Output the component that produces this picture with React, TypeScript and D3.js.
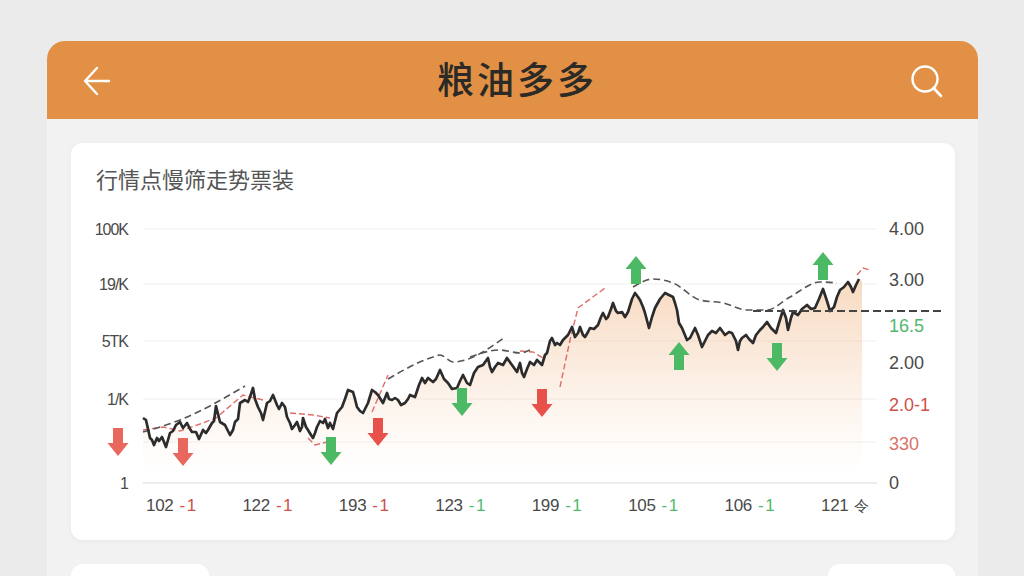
import * as d3 from 'd3'

const W = 1024
const H = 576

// time runs 0..717 across the plot, price runs 0..254 bottom to top
const pricePoints: [number, number][] = [
    [0, 65], [3, 63], [7, 45], [9, 43], [11, 38], [14, 45], [16, 42], [19, 46], [21, 41], [23, 36], [27, 50], [30, 52], [33, 58], [37, 61],
    [40, 55], [44, 60], [47, 54], [49, 51], [53, 51], [56, 44], [60, 53], [63, 50], [65, 53], [69, 60], [71, 62], [73, 77], [77, 61],
    [82, 58], [85, 52], [87, 48], [90, 53], [92, 61], [95, 64], [97, 80], [102, 83], [105, 81], [107, 86], [110, 95], [112, 84], [115, 76], [118, 70], [120, 63], [124, 80],
    [127, 82], [130, 88], [134, 78], [136, 74], [139, 80], [142, 76], [144, 66], [147, 60], [149, 54], [152, 58], [154, 61], [157, 52], [159, 56], [160, 65], [163, 56], [165, 53], [168, 48], [170, 45],
    [172, 50], [174, 56], [177, 62], [180, 60], [182, 64], [185, 55], [187, 60], [190, 54], [194, 70], [199, 76], [202, 84], [205, 93], [210, 91], [212, 84], [214, 76], [217, 72], [220, 70],
    [223, 76], [225, 80], [229, 93], [232, 91], [235, 88], [240, 80], [244, 90], [246, 84], [249, 83], [252, 85], [255, 83], [258, 78], [262, 80], [265, 84], [267, 88],
    [272, 86], [276, 98], [279, 105], [282, 100], [285, 105], [290, 101], [293, 104], [297, 113], [301, 104], [305, 100], [309, 94], [314, 95], [317, 102], [320, 108], [324, 100], [327, 98], [331, 110], [335, 116],
    [340, 118], [345, 125], [347, 116], [349, 111], [352, 116], [355, 120], [360, 118], [364, 125], [369, 118], [374, 111], [377, 120], [379, 110], [381, 106], [384, 114], [387, 121], [391, 118], [394, 123], [397, 120], [399, 118],
    [402, 128], [404, 130], [407, 142], [409, 145], [412, 138], [414, 140], [417, 138], [420, 143], [425, 148], [429, 156], [432, 146], [435, 150], [437, 156], [440, 148], [442, 146], [445, 151], [447, 155], [451, 154], [455, 158],
    [458, 166], [460, 170], [463, 164], [465, 166], [468, 174], [470, 180], [473, 172], [475, 170], [479, 171], [482, 166], [485, 171], [489, 184], [492, 190], [495, 186], [497, 183], [500, 176], [502, 170], [506, 155], [509, 166], [512, 175],
    [517, 184], [522, 190], [526, 188], [530, 186], [532, 180], [534, 173], [536, 160], [539, 155], [544, 143], [547, 145], [552, 155], [555, 148], [559, 136], [562, 142], [565, 148], [569, 152], [573, 150], [577, 155], [582, 148],
    [586, 151], [589, 150], [593, 142], [595, 133], [597, 142], [599, 145], [603, 148], [606, 144], [610, 140], [613, 148], [617, 153], [620, 156], [624, 161], [628, 155], [633, 150], [636, 160], [640, 173], [643, 165], [645, 153], [648, 165], [650, 171],
    [655, 168], [659, 174], [664, 178], [668, 174], [672, 175], [676, 184], [680, 194], [684, 182], [687, 172], [691, 176], [694, 186], [697, 193], [701, 196], [705, 201], [708, 196], [710, 191], [713, 198], [716, 204], [719, 202],
]

const grayDashes: [number, number][][] = [
    [[0, 51], [37, 63], [102, 97]],
    [[245, 104], [290, 126], [297, 128], [310, 121], [362, 146]],
    [[327, 126], [357, 133], [377, 130], [387, 133]],
    [[490, 196], [510, 204], [530, 200], [557, 183], [580, 180], [604, 173], [624, 173], [647, 186], [677, 201], [694, 200]],
]
const redDashes: [number, number][][] = [
    [[0, 53], [20, 56], [37, 52], [57, 59], [73, 65], [100, 88], [120, 83]],
    [[147, 70], [170, 68], [187, 65]],
    [[165, 45], [172, 38], [184, 41]],
    [[229, 71], [245, 108]],
    [[377, 132], [390, 131], [400, 125]],
    [[417, 96], [427, 143], [435, 175], [462, 195]],
    [[714, 208], [720, 215], [727, 213]],
]
const levelValue = 172
const levelSpan = [610, 800]

type Arrow = { t: number; v: number; dir: 'up' | 'down'; tone: 'gain' | 'loss' | 'soft' }
const arrows: Arrow[] = [
    { t: -25, v: 41, dir: 'down', tone: 'soft' },
    { t: 40, v: 31, dir: 'down', tone: 'soft' },
    { t: 188, v: 32, dir: 'down', tone: 'gain' },
    { t: 235, v: 51, dir: 'down', tone: 'loss' },
    { t: 319, v: 81, dir: 'down', tone: 'gain' },
    { t: 399, v: 80, dir: 'down', tone: 'loss' },
    { t: 493, v: 213, dir: 'up', tone: 'gain' },
    { t: 536, v: 127, dir: 'up', tone: 'gain' },
    { t: 634, v: 126, dir: 'down', tone: 'gain' },
    { t: 680, v: 217, dir: 'up', tone: 'gain' },
]

const leftTicks = [254, 199, 142, 84, 0]
const leftLabels = ['100K', '19/K', '5TK', '1/K', '1']
const gridTicks = [254, 199, 142, 84, 41, 0]
const rightTicks = [254, 203, 157, 120, 78, 39, 0]
const rightLabels = ['4.00', '3.00', '16.5', '2.00', '2.0-1', '330', '0']
const rightTones = ['ink', 'ink', 'gain', 'ink', 'loss', 'soft', 'ink']
const xLabels = ['102', '122', '193', '123', '199', '105', '106', '121']
const xSuffixes = ['-1', '-1', '-1', '-1', '-1', '-1', '-1', '令']
const xTones = ['loss', 'loss', 'loss', 'gain', 'gain', 'gain', 'gain', 'ink']

const toneColor = { ink: '#4a4a4a', gain: '#4fb96c', loss: '#cf4f4a', soft: '#d9726c' }
const arrowColor = { gain: '#4cb964', loss: '#e8504a', soft: '#e8675f' }
const latin = '"Liberation Sans", Arial, sans-serif'
const cjk = '"Noto Sans CJK SC", sans-serif'

const x = d3.scaleLinear().domain([0, 717]).range([143, 860])
const y = d3.scaleLinear().domain([0, 254]).range([483, 229])
const xBand = d3.scalePoint<string>().domain(xLabels.map((d, i) => d + i)).range([146, 821])

const line = d3.line<[number, number]>().x(d => x(d[0])).y(d => y(d[1]))
const area = d3
    .area<[number, number]>()
    .x(d => x(d[0]))
    .y0(y(0))
    .y1(d => y(d[1]))

const arrowPath = (a: Arrow) => {
    const cx = x(a.t)
    const cy = y(a.v)
    const s = a.dir === 'up' ? -1 : 1
    const p = d3.path()
    p.moveTo(cx - 5, cy - s * 14)
    p.lineTo(cx + 5, cy - s * 14)
    p.lineTo(cx + 5, cy + s * 1)
    p.lineTo(cx + 10.5, cy + s * 1)
    p.lineTo(cx, cy + s * 14)
    p.lineTo(cx - 10.5, cy + s * 1)
    p.lineTo(cx - 5, cy + s * 1)
    p.closePath()
    return p.toString()
}

export default function App() {
    document.body.style.margin = '0'
    return (
        <svg width={W} height={H} style={{ display: 'block', position: 'fixed', left: 0, top: 0 }}>
            <defs>
                <linearGradient id="fade" gradientUnits="userSpaceOnUse" x1="0" y1="285" x2="0" y2="472">
                    <stop offset="0" stopColor="#eeaa6e" stopOpacity="0.42" />
                    <stop offset="0.45" stopColor="#f0b585" stopOpacity="0.25" />
                    <stop offset="1" stopColor="#f4c9a4" stopOpacity="0" />
                </linearGradient>
                <filter id="soft" x="-5%" y="-5%" width="110%" height="110%">
                    <feDropShadow dx="0" dy="1" stdDeviation="3" floodColor="#000" floodOpacity="0.04" />
                </filter>
            </defs>

            <rect width={W} height={H} fill="#ebebeb" />
            <path d="M47 576V59a18 18 0 0 1 18-18H960a18 18 0 0 1 18 18V576Z" fill="#f2f2f2" />
            <path d="M47 119V59a18 18 0 0 1 18-18H960a18 18 0 0 1 18 18V119Z" fill="#e19045" />

            <path d="M109 81H86M97 68L85 81L97 94" fill="none" stroke="#fff" strokeWidth={2.4} strokeLinecap="round" strokeLinejoin="round" />
            <circle cx={925} cy={79} r={12.5} fill="none" stroke="#fff" strokeWidth={2.4} />
            <path d="M933.5 88L941 96" fill="none" stroke="#fff" strokeWidth={2.6} strokeLinecap="round" />
            <text x={517} y={94} textAnchor="middle" fontFamily={cjk} fontSize={37} fontWeight={500} letterSpacing={3} fill="#2b2a26">粮油多多</text>

            <rect x={71} y={143} width={884} height={397} rx={12} fill="#fff" filter="url(#soft)" />
            <rect x={71} y={564} width={138} height={30} rx={12} fill="#fff" />
            <rect x={828} y={564} width={127} height={30} rx={12} fill="#fff" />

            <text x={96} y={188} fontFamily={cjk} fontSize={22} fill="#555">行情点慢筛走势票装</text>

            {gridTicks.map(t => (
                <line key={t} x1={143} x2={877} y1={y(t)} y2={y(t)} stroke={t === 0 ? '#e6e6e6' : '#f1f0ee'} strokeWidth={t === 0 ? 1.4 : 1.2} />
            ))}

            <path d={area(pricePoints) ?? ''} fill="url(#fade)" />

            {redDashes.map((d, i) => (
                <path key={i} d={line(d) ?? ''} fill="none" stroke="#d9534f" strokeOpacity={0.85} strokeWidth={1.4} strokeDasharray="6 3" />
            ))}
            {grayDashes.map((d, i) => (
                <path key={i} d={line.curve(d3.curveMonotoneX)(d) ?? ''} fill="none" stroke="#555" strokeWidth={1.6} strokeDasharray="7 4" />
            ))}
            <path d={line.curve(d3.curveLinear)(pricePoints.slice(0, -1)) ?? ''} fill="none" stroke="#2c2c2c" strokeWidth={2.7} strokeLinejoin="round" />
            <line x1={x(levelSpan[0])} x2={x(levelSpan[1])} y1={y(levelValue)} y2={y(levelValue)} stroke="#444" strokeWidth={1.8} strokeDasharray="8 4" />

            {arrows.map((a, i) => (
                <path key={i} d={arrowPath(a)} fill={arrowColor[a.tone]} />
            ))}

            {leftTicks.map((t, i) => (
                <text key={t} x={128} y={y(t)} dy="0.35em" textAnchor="end" fontFamily={latin} fontSize={16} letterSpacing={-1} fill="#4a4a4a">{leftLabels[i]}</text>
            ))}
            {rightTicks.map((t, i) => (
                <text key={t} x={889} y={y(t)} dy="0.35em" fontFamily={latin} fontSize={18} fill={toneColor[rightTones[i]]}>{rightLabels[i]}</text>
            ))}
            {xLabels.map((d, i) => (
                <text key={i} x={xBand(d + i)} y={511} fontFamily={latin} fontSize={17} letterSpacing={-0.3} fill="#4a4a4a">
                    {d}
                    <tspan dx={6} fill={toneColor[xTones[i]]} letterSpacing={1.5} fontSize={i === 7 ? 15 : 17}>{xSuffixes[i]}</tspan>
                </text>
            ))}
        </svg>
    )
}
